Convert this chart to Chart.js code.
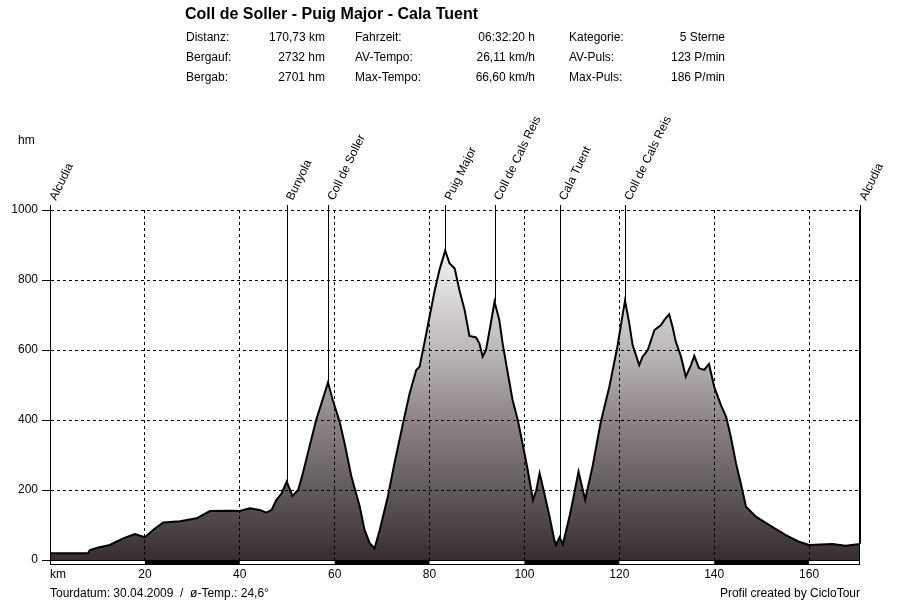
<!DOCTYPE html>
<html>
<head>
<meta charset="utf-8">
<script src="https://cdn.jsdelivr.net/npm/chart.js@4.4.0/dist/chart.umd.min.js"></script>
<style>
  body { margin: 0; background: #fff; font-family: "Liberation Sans", Arial, sans-serif; color: #000; }
  #wrap { position: relative; width: 910px; height: 600px; }
  canvas { position: absolute; left: 0; top: 0; }
  .t { position: absolute; font-size: 12px; line-height: 14px; white-space: nowrap; }
  .r { text-align: right; }
  #title { position: absolute; left: 185px; top: 5px; font-size: 16px; font-weight: bold; white-space: nowrap; }
</style>
</head>
<body>
<div id="wrap">
  <canvas id="profileChart" width="910" height="600"></canvas>
  <div id="title">Coll de Soller - Puig Major - Cala Tuent</div>
  <div id="info"></div>
  <div class="t" style="left:18px; top:133px;">hm</div>
  <div class="t" style="left:50px; top:567px;">km</div>
  <div class="t" style="left:50px; top:586px;">Tourdatum: 30.04.2009&nbsp; / &nbsp;ø-Temp.: 24,6°</div>
  <div class="t r" style="right:50px; top:586px;">Profil created by CicloTour</div>
</div>
<script>
// Tour profile data (km / hm)
const kmValues = [
  0, 8, 8.4, 10.2, 12.6, 15.4, 17.9, 20, 22.1, 23.9, 27.4, 30.9, 33.7, 37.9, 40,
  42.1, 44.2, 45.6, 46.7, 47.7, 48.8, 49.9, 51.1, 52.3, 53.3, 54.7, 56.1, 58.6,
  59.6, 61.05, 62.1, 63.5, 65.3, 66.3, 67.4, 68.4, 69.5, 71.2, 72.6, 74.4, 75.8,
  77.2, 77.9, 78.9, 80, 81.1, 82.1, 83.3, 84.2, 85.3, 86.3, 87.4, 88.4, 89.8,
  90.5, 91.2, 91.9, 92.8, 93.7, 94.7, 95.4, 96.5, 97.5, 98.6, 99.6, 100.7, 101.8,
  102.5, 103.2, 104.2, 105.3, 106.3, 106.7, 107.4, 108.1, 109.5, 110.5, 111.4,
  112.8, 114.4, 116.1, 117.9, 119.6, 120.4, 121.2, 122.1, 122.8, 124.2, 124.9,
  126, 127.4, 128.8, 129.5, 130.5, 131.2, 131.9, 133, 134, 135.1, 135.8, 136.8,
  137.9, 138.9, 140, 141.4, 142.5, 143.5, 144.6, 145.6, 146.7, 148.8, 151.6,
  155.1, 157.9, 160, 164.9, 167.7, 170.73
];
const elevation = [
  19, 19, 28, 36, 43, 62, 74, 65, 90, 107, 111, 119, 140, 141, 140,
  148, 143, 135, 143, 171, 190, 224, 183, 200, 248, 324, 400, 507,
  457, 395, 333, 240, 152, 86, 48, 33, 86, 181, 276, 390, 476,
  543, 552, 619, 695, 771, 829, 884, 848, 833, 771, 714, 640, 636,
  619, 581, 600, 667, 738, 686, 619, 533, 457, 400, 333, 257, 171,
  200, 248, 190, 124, 57, 43, 65, 45, 124, 190, 252,
  172, 270, 395, 495, 610, 676, 741, 676, 614, 557, 581,
  600, 657, 671, 686, 702, 667, 624, 581, 524, 557, 583, 548,
  543, 560, 495, 443, 410, 352, 276, 219, 152, 124, 100,
  71, 52, 43, 46, 41, 46
];

// Waypoints along the route
const markerNames = ["Alcudia", "Bunyola", "Coll de Soller", "Puig Major", "Coll de Cals Reis", "Cala Tuent", "Coll de Cals Reis", "Alcudia"];
const markerKm = [0, 49.9, 58.6, 83.3, 93.7, 107.4, 121.2, 170.73];

// Axis ticks
const xTicks = [0, 20, 40, 60, 80, 100, 120, 140, 160];
const yTicks = [0, 200, 400, 600, 800, 1000];

// Header table
const infoRows = [
  ["Distanz:", "170,73 km", "Fahrzeit:", "06:32:20 h", "Kategorie:", "5 Sterne"],
  ["Bergauf:", "2732 hm", "AV-Tempo:", "26,11 km/h", "AV-Puls:", "123 P/min"],
  ["Bergab:", "2701 hm", "Max-Tempo:", "66,60 km/h", "Max-Puls:", "186 P/min"],
];

const infoEl = document.getElementById("info");
const labelX = [186, 355, 569];
const valueRight = [325, 535, 725];
infoRows.forEach((row, r) => {
  const top = 30 + r * 20;
  for (let c = 0; c < 3; c++) {
    const lab = document.createElement("div");
    lab.className = "t";
    lab.style.left = labelX[c] + "px";
    lab.style.top = top + "px";
    lab.textContent = row[c * 2];
    infoEl.appendChild(lab);
    const val = document.createElement("div");
    val.className = "t r";
    val.style.right = (910 - valueRight[c]) + "px";
    val.style.top = top + "px";
    val.textContent = row[c * 2 + 1];
    infoEl.appendChild(val);
  }
});

const FONT = "'Liberation Sans', Arial, sans-serif";
Chart.defaults.font.family = FONT;
Chart.defaults.font.size = 12;
Chart.defaults.color = "#000";

// Extra drawing: right border, km bar, waypoint lines and labels
const profileExtras = {
  id: "profileExtras",
  afterDatasetsDraw(chart) {
    const { ctx, chartArea, scales } = chart;
    const xs = scales.x;
    const ys = scales.y;
    ctx.save();

    // waypoint lines
    ctx.strokeStyle = "#000";
    ctx.lineWidth = 1;
    markerKm.forEach((km) => {
      const idx = kmValues.indexOf(km);
      if (idx < 0) return;
      const x = Math.round(xs.getPixelForValue(km)) + 0.5;
      const y = ys.getPixelForValue(elevation[idx]);
      ctx.beginPath();
      ctx.moveTo(x, chartArea.top - 5);
      ctx.lineTo(x, y);
      ctx.stroke();
    });

    // waypoint labels
    ctx.fillStyle = "#000";
    ctx.font = "12px " + FONT;
    ctx.textAlign = "left";
    ctx.textBaseline = "alphabetic";
    markerNames.forEach((name, i) => {
      const x = xs.getPixelForValue(markerKm[i]);
      ctx.save();
      ctx.translate(x + 6, chartArea.top - 9);
      ctx.rotate(-64 * Math.PI / 180);
      ctx.fillText(name, 0, 0);
      ctx.restore();
    });

    // right border
    ctx.beginPath();
    ctx.moveTo(Math.round(chartArea.right) - 0.5, chartArea.top);
    ctx.lineTo(Math.round(chartArea.right) - 0.5, chartArea.bottom);
    ctx.stroke();

    // alternating km bar below the profile
    const barTop = chartArea.bottom;
    const barH = 5;
    const bounds = xTicks.concat([xs.max]);
    ctx.fillStyle = "#fff";
    ctx.fillRect(chartArea.left, barTop, chartArea.right - chartArea.left, barH);
    ctx.fillStyle = "#000";
    for (let i = 0; i < bounds.length - 1; i++) {
      if (i % 2 === 1) {
        const x1 = xs.getPixelForValue(bounds[i]);
        const x2 = xs.getPixelForValue(bounds[i + 1]);
        ctx.fillRect(x1, barTop, x2 - x1, barH);
      }
    }
    ctx.strokeRect(chartArea.left + 0.5, barTop + 0.5, chartArea.right - chartArea.left - 1, barH - 1);
    ctx.restore();
  },
};

const ctx = document.getElementById("profileChart").getContext("2d");
new Chart(ctx, {
  type: "line",
  data: {
    datasets: [
      {
        data: kmValues.map((km, i) => ({ x: km, y: elevation[i] })),
        borderColor: "#000",
        borderWidth: 2,
        pointRadius: 0,
        tension: 0,
        fill: "origin",
        backgroundColor: (c) => {
          const area = c.chart.chartArea;
          if (!area) return "#888";
          const g = c.chart.ctx.createLinearGradient(0, area.top, 0, area.bottom);
          g.addColorStop(0, "#ffffff");
          g.addColorStop(0.1, "#f3f3f3");
          g.addColorStop(0.2, "#e3e1e2");
          g.addColorStop(0.4, "#bcb8b9");
          g.addColorStop(0.6, "#8d8588");
          g.addColorStop(0.8, "#615a5d");
          g.addColorStop(1, "#382e32");
          return g;
        },
      },
    ],
  },
  options: {
    responsive: false,
    animation: false,
    layout: { padding: { left: 0, top: 210, right: 50, bottom: 0 } },
    plugins: { legend: { display: false }, tooltip: { enabled: false } },
    scales: {
      x: {
        type: "linear",
        min: 0,
        max: 170.73,
        afterBuildTicks: (scale) => {
          scale.ticks = xTicks.map((v) => ({ value: v }));
        },
        afterFit: (scale) => { scale.height = 40; },
        ticks: {
          maxRotation: 0,
          padding: 7,
          callback: (v) => (v === 0 ? "" : String(v)),
        },
        grid: {
          z: 1,
          drawTicks: false,
          color: (c) => (c.tick && c.tick.value === 0 ? "rgba(0,0,0,0)" : "#000"),
        },
        border: { display: false, dash: [3, 3], z: 2 },
      },
      y: {
        min: 0,
        max: 1000,
        afterBuildTicks: (scale) => {
          scale.ticks = yTicks.map((v) => ({ value: v }));
        },
        afterFit: (scale) => { scale.width = 50; },
        ticks: { padding: 4, callback: (v) => String(v) },
        grid: {
          z: 1,
          tickLength: 8,
          tickColor: "#000",
          tickBorderDash: [],
          color: (c) => (c.tick && c.tick.value === 0 ? "rgba(0,0,0,0)" : "#000"),
        },
        border: { display: true, color: "#000", width: 1, dash: [3, 3], z: 2 },
      },
    },
  },
  plugins: [profileExtras],
});
</script>
</body>
</html>
